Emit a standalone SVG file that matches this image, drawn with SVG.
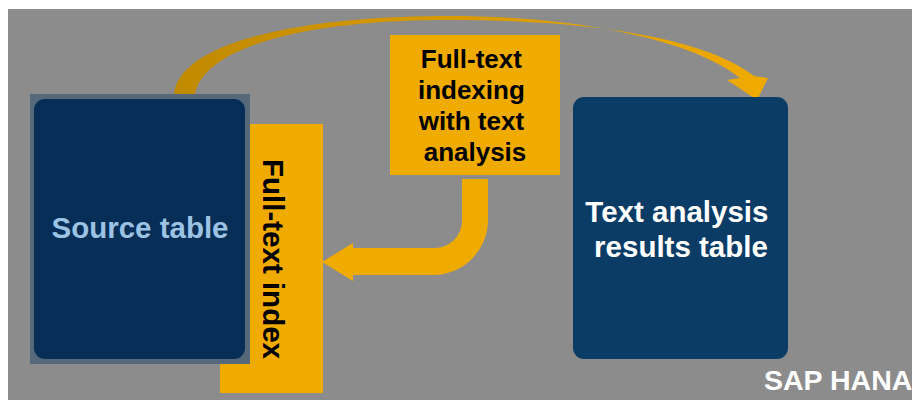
<svg xmlns="http://www.w3.org/2000/svg" width="912" height="400" viewBox="0 0 912 400">
<defs>
<style>
.t{font-family:"Liberation Sans",Arial,sans-serif;font-weight:bold;}
.y{fill:#f0ab00;}
</style>
<linearGradient id="arcg" x1="170" y1="0" x2="770" y2="0" gradientUnits="userSpaceOnUse">
<stop offset="0" stop-color="#c08a00"/>
<stop offset="0.5" stop-color="#d99b00"/>
<stop offset="1" stop-color="#f0ab00"/>
</linearGradient>
</defs>
<rect x="0" y="0" width="912" height="400" fill="#ffffff"/>
<rect x="8" y="9" width="904" height="391" fill="#8c8c8c"/>

<g id="connectors">
<path d="M174,94 C180,42 300,17 440,16 C570,15 690,38 740,78 L727,80 L757,100 L768,78 L754,76 C700,34 570,19 440,20 C310,21 205,45 195,94 Z" fill="url(#arcg)"/>
<path class="y" d="M462,179 H488 V220 A55,55 0 0 1 433,275 H353 V281 L322,262 L353,243 V248 H435 A27,27 0 0 0 462,221 Z"/>
</g>

<g id="fulltext-index">
<rect class="y" x="220" y="124" width="103" height="269"/>
<text class="t" font-size="29.5" fill="#000" text-anchor="middle" transform="translate(263,259) rotate(90)">Full-text index</text>
</g>

<g id="source-table">
<rect x="30" y="94" width="220" height="270" fill="#56697a"/>
<rect x="34" y="99" width="211" height="260" rx="11" fill="#062e57"/>
<text class="t" x="140" y="238" font-size="29.5" fill="#9cc3e3" text-anchor="middle">Source table</text>
</g>

<g id="indexing-box">
<rect class="y" x="390" y="35" width="170" height="140"/>
<text class="t" font-size="26" fill="#000" text-anchor="middle">
<tspan x="475" y="68">Full-text</tspan>
<tspan x="475" y="99">indexing</tspan>
<tspan x="475" y="130">with text</tspan>
<tspan x="475" y="161">analysis</tspan>
</text>
</g>

<g id="results-table">
<rect x="573" y="97" width="215" height="262" rx="11" fill="#0b3c66"/>
<text class="t" font-size="29.5" fill="#ffffff" text-anchor="middle">
<tspan x="681" y="222">Text analysis</tspan>
<tspan x="681" y="257">results table</tspan>
</text>
</g>

<g id="sap-hana">
<text class="t" x="764" y="390" font-size="28.5" fill="#ffffff">SAP HANA</text>
</g>
</svg>
